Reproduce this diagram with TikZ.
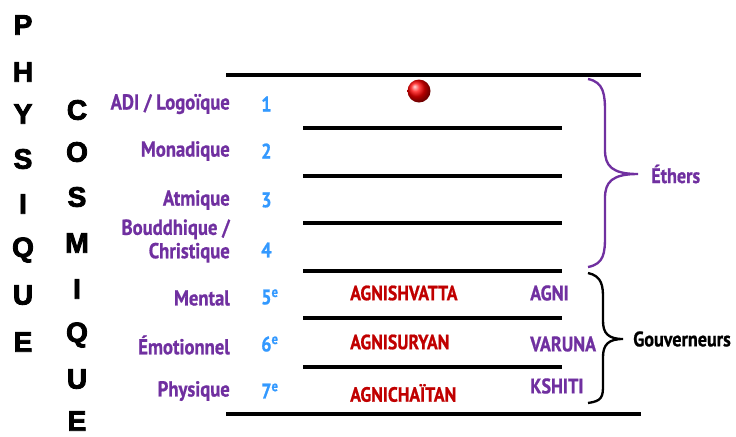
\documentclass[tikz,border=0pt]{standalone}
\usepackage{fontspec}
\setmainfont{PT Sans}[FakeStretch=0.86, BoldFeatures={FakeBold=0.8}]
\newfontfamily\lettrefont{Liberation Sans}[BoldFeatures={FakeBold=3}]
\usetikzlibrary{calc}

\definecolor{planviolet}{HTML}{7030A0}
\definecolor{planbleu}{HTML}{3399FF}
\definecolor{planrouge}{HTML}{C00000}

\tikzset{
    lettre/.style={font=\lettrefont\bfseries\fontsize{24}{24}\selectfont, inner sep=0pt},
    plan/.style={anchor=east, text=planviolet, font=\bfseries\fontsize{18.5}{20}\selectfont, align=right, inner sep=0pt},
    rang/.style={anchor=west, text=planbleu, font=\bfseries\fontsize{18}{18}\selectfont, inner sep=0pt},
    agni/.style={anchor=west, text=planrouge, font=\bfseries\fontsize{17.6}{18}\selectfont, inner sep=0pt},
    deva/.style={anchor=west, text=planviolet, font=\bfseries\fontsize{18}{18}\selectfont, inner sep=0pt},
    niveau/.style={line width=2.8pt}
}

\begin{document}
\begin{tikzpicture}[x=0.03cm, y=-0.03cm]
        \useasboundingbox (0,0) rectangle (736,436);

        % PHYSIQUE
        \node[lettre] (p1) at (23,25) {P};
        \node[lettre] (p2) at (23,72) {H};
        \node[lettre] (p3) at (23,114) {Y};
        \node[lettre] (p4) at (23,159) {S};
        \node[lettre] (p5) at (23,204) {I};
        \node[lettre] (p6) at (23,250) {Q};
        \node[lettre] (p7) at (23,295) {U};
        \node[lettre] (p8) at (23,342) {E};

        % COSMIQUE
        \node[lettre] (c1) at (77,110) {C};
        \node[lettre] (c2) at (77,152) {O};
        \node[lettre] (c3) at (77,197) {S};
        \node[lettre] (c4) at (77,243) {M};
        \node[lettre] (c5) at (77,289) {I};
        \node[lettre] (c6) at (77,335) {Q};
        \node[lettre] (c7) at (77,379) {U};
        \node[lettre] (c8) at (77,421) {E};

        % PLANS
        \node[plan] (adi) at (230,104) {ADI / Logoïque};
        \node[plan] (monade) at (230,151) {Monadique};
        \node[plan] (atma) at (230,200) {Atmique};
        \node[plan] (bouddhi) at (230,241) {Bouddhique /\\Christique};
        \node[plan] (mental) at (230,298) {Mental};
        \node[plan] (astral) at (230,345) {Émotionnel};
        \node[plan] (physique) at (230,391) {Physique};

        % NUMEROS
        \node[rang] (r1) at (261,104) {1};
        \node[rang] (r2) at (261,151) {2};
        \node[rang] (r3) at (261,200) {3};
        \node[rang] (r4) at (261,250) {4};
        \node[rang] (r5) at (261,297) {5\textsuperscript{e}};
        \node[rang] (r6) at (261,344) {6\textsuperscript{e}};
        \node[rang] (r7) at (261,391) {7\textsuperscript{e}};

        % NIVEAUX
        \draw[niveau] (226,75) -- (641,75);
        \draw[niveau] (303,128) -- (562,128);
        \draw[niveau] (303,176) -- (562,176);
        \draw[niveau] (303,223) -- (562,223);
        \draw[niveau] (303,271) -- (562,271);
        \draw[niveau] (303,318) -- (562,318);
        \draw[niveau] (303,367) -- (562,367);
        \draw[niveau] (226,414) -- (641,414);

        % POINT
        \shade[ball color=red] (419,91) circle (11.5);

        % AGNIS
        \node[agni] (shva) at (350,293) {AGNISHVATTA};
        \node[agni] (surya) at (350,342) {AGNISURYAN};
        \node[agni] (chai) at (350,393) {AGNICHAÏTAN};

        \node[deva] (agni) at (530,293) {AGNI};
        \node[deva] (varuna) at (530,344) {VARUNA};
        \node[deva] (kshiti) at (530,386) {KSHITI};

        % ETHERS
        \draw[planviolet, line width=2pt] (588,79) .. controls (604,82) and (605,95) .. (605,112)
            -- (605,150) .. controls (605,166) and (612,174) .. (638,174)
            .. controls (612,174) and (605,182) .. (605,198)
            -- (605,236) .. controls (605,253) and (604,264) .. (588,267);
        \node[deva] (ethers) at (651,174) {Éthers};

        % GOUVERNEURS
        \draw[line width=2pt] (588,273) .. controls (602,276) and (603,286) .. (603,298)
            -- (603,321) .. controls (603,333) and (608,339) .. (623,339)
            .. controls (608,339) and (603,345) .. (603,357)
            -- (603,385) .. controls (603,397) and (602,401) .. (588,403);
        \node[deva, text=black] (gouv) at (633,339) {Gouverneurs};

    \end{tikzpicture}
\end{document}
